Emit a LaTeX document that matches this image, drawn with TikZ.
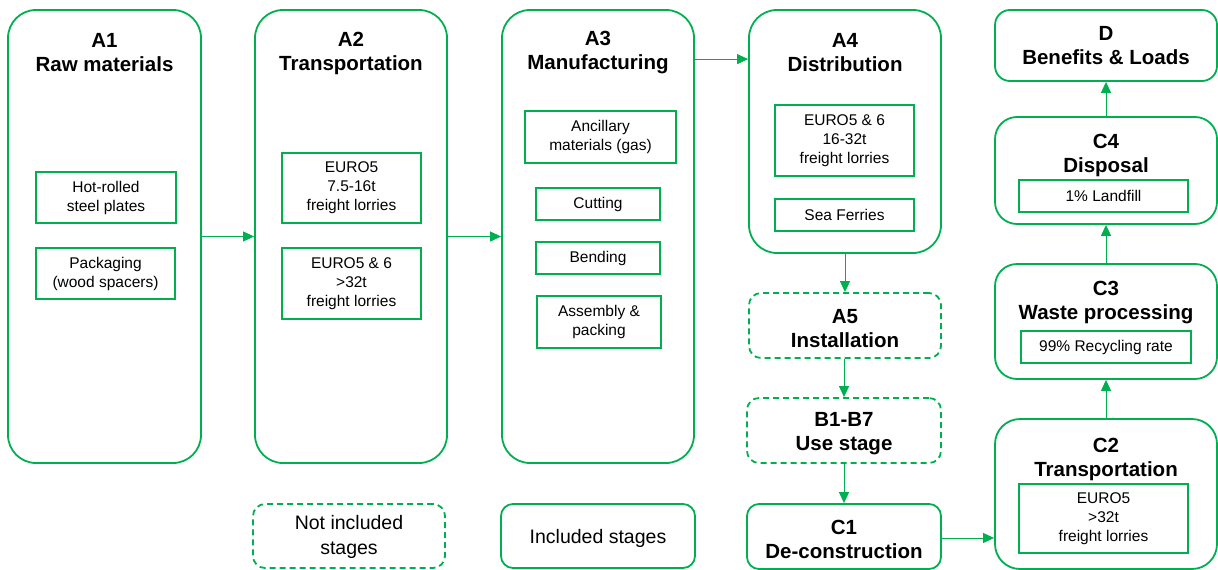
\documentclass[tikz,border=0pt]{standalone}
\usepackage{fontspec}
\setmainfont{Liberation Sans}
\usetikzlibrary{arrows.meta}
\definecolor{eg}{RGB}{0,176,80}
\begin{document}
\begin{tikzpicture}[x=1pt,y=-1pt,
  stage/.style={draw=eg, line width=1.8pt, rounded corners=#1, inner sep=0pt},
  stage/.default=28pt,
  notinc/.style={stage=12pt, dash pattern=on 6pt off 4pt},
  sub/.style={draw=eg, line width=2pt, inner sep=0pt, align=center, font=\fontsize{15.5}{19}\selectfont},
  ttl/.style={align=center, inner sep=0pt, font=\fontsize{20.5}{24}\selectfont\bfseries},
  leg/.style={align=center, inner sep=0pt, font=\fontsize{19.5}{25}\selectfont},
  arr/.style={draw=eg, line width=1pt, -{Triangle[length=11pt,width=10pt]}}]
\useasboundingbox (0,0) rectangle (1218,570);
% main stages
\node[stage, minimum width=193pt, minimum height=453pt] (A1) at (104.5,236.5) {};
\node[stage, minimum width=192pt, minimum height=453pt] (A2) at (351,236.5) {};
\node[stage, minimum width=192pt, minimum height=453pt] (A3) at (598,236.5) {};
\node[stage, minimum width=192pt, minimum height=243pt] (A4) at (845,131.5) {};
\node[notinc, minimum width=192pt, minimum height=65pt] (A5) at (845,325.5) {};
\node[notinc, minimum width=194pt, minimum height=65pt] (B) at (844,430.5) {};
\node[stage=12pt, minimum width=194pt, minimum height=65pt] (C1) at (844,536.5) {};
\node[stage=25pt, minimum width=222pt, minimum height=150pt] (C2) at (1106,494) {};
\node[stage=22pt, minimum width=222pt, minimum height=115pt] (C3) at (1106,321.5) {};
\node[stage=22pt, minimum width=222pt, minimum height=107pt] (C4) at (1106,170.5) {};
\node[stage=15pt, minimum width=222pt, minimum height=71pt] (D) at (1106,45.5) {};
\node[notinc, minimum width=192pt, minimum height=64pt] (NI) at (349,536) {};
\node[stage=12pt, minimum width=194pt, minimum height=64pt] (IN) at (598,536) {};
% titles
\node[ttl] (tA1) at (104.5,53) {A1\\Raw materials};
\node[ttl] (tA2) at (351,53) {A2\\Transportation};
\node[ttl] (tA3) at (598,53) {A3\\Manufacturing};
\node[ttl] (tA4) at (845,53) {A4\\Distribution};
\node[ttl] (tA5) at (845,329) {A5\\Installation};
\node[ttl] (tB) at (844,434) {B1-B7\\Use stage};
\node[ttl] (tC1) at (844,539) {C1\\De-construction};
\node[ttl] (tC2) at (1106,459.5) {C2\\Transportation};
\node[ttl] (tC3) at (1106,302.5) {C3\\Waste processing};
\node[ttl] (tC4) at (1106,155.5) {C4\\Disposal};
\node[ttl] (tD) at (1106,46) {D\\Benefits \& Loads};
\node[leg] (tNI) at (349,537) {Not included\\stages};
\node[leg] (tIN) at (598,538) {Included stages};
% sub boxes
\node[sub, minimum width=140pt, minimum height=51pt] (hot) at (106,197.5) {Hot-rolled\\steel plates};
\node[sub, minimum width=139pt, minimum height=51pt] (pack) at (105.5,273.5) {Packaging\\(wood spacers)};
\node[sub, minimum width=139pt, minimum height=70pt] (e1) at (351.5,188) {EURO5\\7.5-16t\\freight lorries};
\node[sub, minimum width=139pt, minimum height=71pt] (e2) at (351.5,283.5) {EURO5 \& 6\\>32t\\freight lorries};
\node[sub, minimum width=151pt, minimum height=52pt] (anc) at (600.5,137) {Ancillary\\materials (gas)};
\node[sub, minimum width=124pt, minimum height=32pt] (cut) at (598,204) {Cutting};
\node[sub, minimum width=124pt, minimum height=32pt] (bend) at (598,258) {Bending};
\node[sub, minimum width=124pt, minimum height=52pt] (ass) at (599,322) {Assembly \&\\packing};
\node[sub, minimum width=139pt, minimum height=71pt] (e3) at (844.5,140.5) {EURO5 \& 6\\16-32t\\freight lorries};
\node[sub, minimum width=139pt, minimum height=32pt] (sea) at (844.5,215) {Sea Ferries};
\node[sub, minimum width=169pt, minimum height=32pt] (land) at (1103.5,196) {1\% Landfill};
\node[sub, minimum width=170pt, minimum height=32pt] (rec) at (1106,347) {99\% Recycling rate};
\node[sub, minimum width=169pt, minimum height=69pt] (e4) at (1103.5,518.5) {EURO5\\>32t\\freight lorries};
% connectors
\draw[arr] (A1.east) -- (A2.west);
\draw[arr] (A2.east) -- (A3.west);
\draw[arr] ([yshift=-50pt]A3.north east) -- ([yshift=-50pt]A4.north west);
\draw[arr] (A4.south) -- (A5.north);
\draw[arr] (A5.south -| B.north) -- (B.north);
\draw[arr] (B.south) -- (C1.north);
\draw[arr] ([yshift=-1.5pt]C1.east) -- ([yshift=-1.5pt]C1.east -| C2.west);
\draw[arr] (C2.north) -- (C3.south);
\draw[arr] (C3.north) -- (C4.south);
\draw[arr] (C4.north) -- (D.south);
\end{tikzpicture}
\end{document}
